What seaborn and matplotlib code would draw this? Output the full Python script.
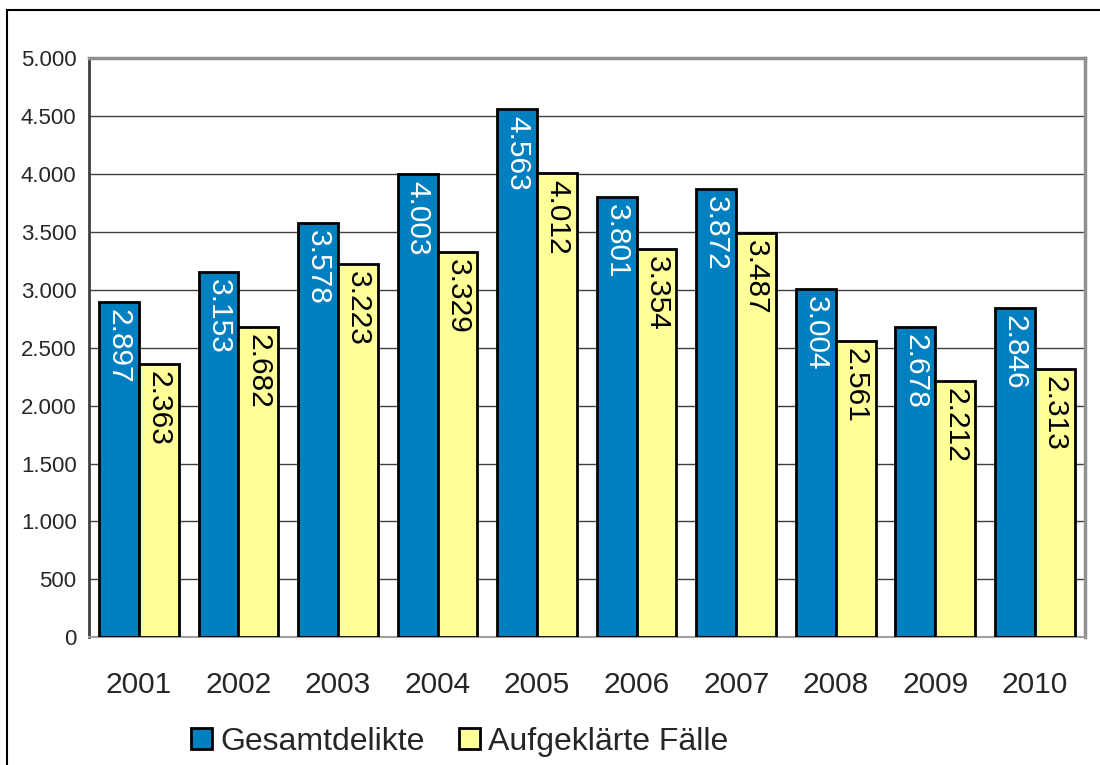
import pandas as pd
import seaborn as sns
import matplotlib.pyplot as plt
from matplotlib.patches import Rectangle
from matplotlib.ticker import FuncFormatter, MultipleLocator, FixedLocator

jahre = ["2001", "2002", "2003", "2004", "2005", "2006", "2007", "2008", "2009", "2010"]
gesamtdelikte = [2897, 3153, 3578, 4003, 4563, 3801, 3872, 3004, 2678, 2846]
aufgeklaert = [2363, 2682, 3223, 3329, 4012, 3354, 3487, 2561, 2212, 2313]
serien = ["Gesamtdelikte", "Aufgeklärte Fälle"]

df = pd.DataFrame({
    "Jahr": jahre * 2,
    "Wert": gesamtdelikte + aufgeklaert,
    "Serie": [serien[0]] * len(jahre) + [serien[1]] * len(jahre),
})

sns.set_style("white")
plt.rcParams["font.family"] = ["Liberation Sans", "DejaVu Sans"]

fig = plt.figure(figsize=(11, 7.65), dpi=100)
ax = fig.add_axes([0.081, 0.167, 0.905, 0.757])

farben = {serien[0]: "#0080C0", serien[1]: "#FFFF99"}
sns.barplot(data=df, x="Jahr", y="Wert", hue="Serie", palette=farben,
            width=0.8, edgecolor="black", linewidth=2, saturation=1,
            ax=ax, legend=False, zorder=3)

# Werte senkrecht in die Balken schreiben
for cont, txtfarbe in zip(ax.containers, ["white", "black"]):
    for bar in cont:
        h = bar.get_height()
        ax.annotate(f"{int(h):,}".replace(",", "."),
                    xy=(bar.get_x() + bar.get_width() / 2, h),
                    xytext=(0, -5), textcoords="offset points",
                    ha="center", va="top", rotation=-90,
                    fontsize=21.5, color=txtfarbe, zorder=4)

ax.set_ylim(0, 5000)
ax.set_xlim(-0.5, len(jahre) - 0.5)
ax.yaxis.set_major_locator(MultipleLocator(500))
ax.yaxis.set_major_formatter(FuncFormatter(lambda v, p: f"{int(v):,}".replace(",", ".")))
ax.grid(axis="y", color="#404040", linewidth=1, zorder=0)
ax.set_xlabel("")
ax.set_ylabel("")

ax.tick_params(axis="y", labelsize=16, length=5, width=1, color="#404040", pad=4)
ax.tick_params(axis="x", which="major", labelsize=21.5, length=0, pad=24)
ax.xaxis.set_minor_locator(FixedLocator([i - 0.5 for i in range(len(jahre) + 1)]))
ax.tick_params(axis="x", which="minor", length=9, width=1, color="#404040", direction="inout")

ax.spines["left"].set_color("#404040")
ax.spines["left"].set_linewidth(2)
ax.spines["bottom"].set_color("#a0a0a0")
ax.spines["bottom"].set_linewidth(1.5)
for s in ["top", "right"]:
    ax.spines[s].set_color("#909090")
    ax.spines[s].set_linewidth(2.5)

# Legende unten
handles = [Rectangle((0, 0), 1, 1, facecolor=farben[s], edgecolor="black", linewidth=2) for s in serien]
fig.legend(handles, serien, loc="center", bbox_to_anchor=(0.418, 0.03), ncol=2,
           frameon=False, fontsize=23, handlelength=0.65, handleheight=0.65,
           handletextpad=0.25, columnspacing=1.1)

# Rahmen um das Diagramm
fig.patches.append(Rectangle((0.0064, -0.1), 1.5, 1.087, transform=fig.transFigure,
                             fill=False, edgecolor="black", linewidth=1.5))

plt.savefig("out.png", dpi=100)
